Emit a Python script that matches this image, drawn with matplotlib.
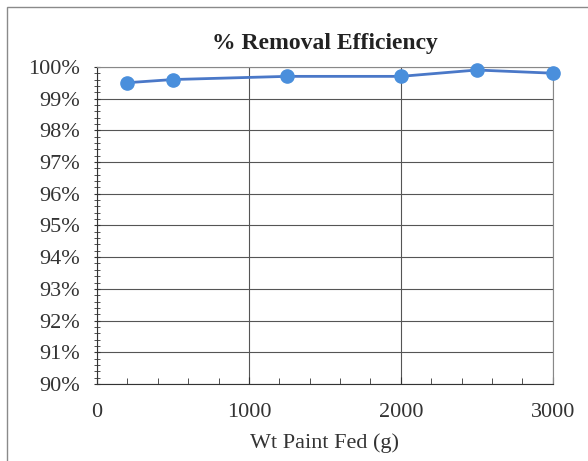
import numpy as np
import matplotlib.pyplot as plt
from matplotlib.ticker import MultipleLocator, PercentFormatter
from matplotlib.patches import Rectangle

wt_fed = [200, 500, 1250, 2000, 2500, 3000]
efficiency = [99.5, 99.6, 99.7, 99.7, 99.9, 99.8]

plt.rcParams['font.family'] = ['Liberation Serif', 'DejaVu Serif']

fig = plt.figure(figsize=(5.88, 4.61), dpi=100)
ax = fig.add_axes([0.165, 0.167, 0.775, 0.688])

# outer chart frame
fig.patches.append(Rectangle((0.012, -0.01), 1.0, 0.995, transform=fig.transFigure,
                             fill=False, edgecolor='#8a8a8a', linewidth=1.0))

ax.plot(wt_fed, efficiency, color='#4a78c8', linewidth=2, marker='o',
        markersize=9.5, markerfacecolor='#4a8fdc', markeredgecolor='#4a8fdc',
        zorder=3, clip_on=False)

ax.set_xlim(0, 3000)
ax.set_ylim(90, 100)
ax.xaxis.set_major_locator(MultipleLocator(1000))
ax.xaxis.set_minor_locator(MultipleLocator(200))
ax.yaxis.set_major_locator(MultipleLocator(1))
ax.yaxis.set_minor_locator(MultipleLocator(0.2))
ax.yaxis.set_major_formatter(PercentFormatter(decimals=0))

ax.grid(True, which='major', color='#555555', linewidth=0.8)
ax.tick_params(axis='both', which='major', labelsize=16, colors='#333333', length=5)
ax.tick_params(axis='y', which='both', direction='inout')
ax.tick_params(axis='y', which='minor', length=5, color='#333333')
ax.tick_params(axis='y', which='major', pad=10)
ax.tick_params(axis='x', which='both', direction='in')
ax.tick_params(axis='x', which='minor', length=4, color='#333333')
ax.tick_params(axis='x', which='major', pad=14)
for s in ax.spines.values():
    s.set_color('#888888')
ax.spines['left'].set_color('#333333')
ax.spines['bottom'].set_color('#333333')

ax.set_title('% Removal Efficiency', fontsize=17, fontweight='bold', color='#222222', pad=13)
ax.set_xlabel('Wt Paint Fed (g)', fontsize=16, color='#333333', labelpad=8)

fig.savefig('out.png', dpi=100)
